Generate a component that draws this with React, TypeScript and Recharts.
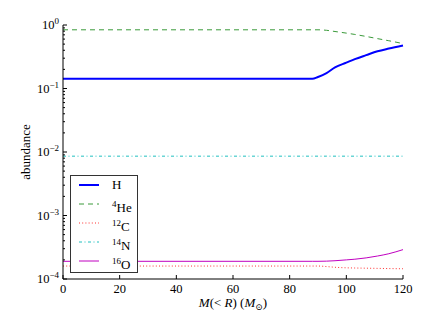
import { LineChart, Line, XAxis, YAxis } from "recharts";

// enclosed mass M(<R) in solar masses
const mass = [0, 88, 90, 93, 96, 100, 103, 107, 111, 115, 120];
const hydrogen = [0.142, 0.142, 0.152, 0.175, 0.215, 0.255, 0.29, 0.335, 0.385, 0.425, 0.475];
const helium4 = [0.84, 0.84, 0.84, 0.825, 0.79, 0.745, 0.71, 0.66, 0.61, 0.565, 0.51];
const carbon12 = [1.6e-4, 1.6e-4, 1.6e-4, 1.57e-4, 1.53e-4, 1.5e-4, 1.49e-4, 1.48e-4, 1.47e-4, 1.46e-4, 1.45e-4];
const nitrogen14 = [8.6e-3, 8.6e-3, 8.6e-3, 8.6e-3, 8.6e-3, 8.6e-3, 8.6e-3, 8.6e-3, 8.6e-3, 8.6e-3, 8.6e-3];
const oxygen16 = [1.9e-4, 1.9e-4, 1.9e-4, 1.91e-4, 1.94e-4, 2.0e-4, 2.05e-4, 2.15e-4, 2.3e-4, 2.5e-4, 2.9e-4];

const xTicks = [0, 20, 40, 60, 80, 100, 120];
const decades = [1e-4, 1e-3, 1e-2, 1e-1, 1];
const yTicks: number[] = [];
decades.forEach((d, i) => {
  yTicks.push(d);
  if (i < decades.length - 1) for (let m = 2; m <= 9; m++) yTicks.push(d * m);
});

const series = [
  { key: "H", iso: "", el: "H", color: "#0000ff", width: 2, dash: undefined },
  { key: "He4", iso: "4", el: "He", color: "#3a9a3a", width: 1, dash: "5 4" },
  { key: "C12", iso: "12", el: "C", color: "#ff3030", width: 1, dash: "1 2.2" },
  { key: "N14", iso: "14", el: "N", color: "#20c0c0", width: 1, dash: "3 2.5 1 2.5" },
  { key: "O16", iso: "16", el: "O", color: "#c000c0", width: 1, dash: undefined },
];

const rows = mass.map((m, i) => ({
  m,
  H: hydrogen[i],
  He4: helium4[i],
  C12: carbon12[i],
  N14: nitrogen14[i],
  O16: oxygen16[i],
}));

const FONT = "Liberation Serif, DejaVu Serif, serif";
const txt = { fontFamily: FONT };

function YTick(props: any) {
  const { x, y, payload, side } = props;
  const v = payload.value as number;
  const lg = Math.log10(v);
  const exp = Math.round(lg);
  const major = Math.abs(lg - exp) < 1e-6;
  const dir = side === "left" ? 1 : -1;
  const len = major ? 4 : 2;
  return (
    <g>
      <line x1={x} x2={x + dir * len} y1={y} y2={y} stroke="#000" />
      {side === "left" && major && (
        <text x={x - 4} y={y} dy="0.33em" textAnchor="end" fontSize={12.5} style={txt} fill="#000">
          10
          <tspan dy={-5} fontSize={9}>
            {exp < 0 ? "\u2212" + Math.abs(exp) : exp}
          </tspan>
        </text>
      )}
    </g>
  );
}

function XTick(props: any) {
  const { x, y, payload, side } = props;
  const dir = side === "bottom" ? -1 : 1;
  return (
    <g>
      <line x1={x} x2={x} y1={y} y2={y + dir * 4} stroke="#000" />
      {side === "bottom" && (
        <text x={x} y={y + 14} textAnchor="middle" fontSize={12.5} style={txt} fill="#000">
          {payload.value}
        </text>
      )}
    </g>
  );
}

function XLabel(props: any) {
  const { x, y, width } = props.viewBox;
  return (
    <text x={x + width / 2} y={y + 28} textAnchor="middle" fontSize={13} style={txt} fill="#000">
      <tspan fontStyle="italic">M</tspan>(&lt; <tspan fontStyle="italic">R</tspan>) (
      <tspan fontStyle="italic">M</tspan>
      <tspan dy={3} fontSize={9}>
        ⊙
      </tspan>
      <tspan dy={-3}>)</tspan>
    </text>
  );
}

function YLabel(props: any) {
  const { y, height } = props.viewBox;
  const cy = y + height / 2;
  return (
    <text
      x={22}
      y={cy}
      transform={`rotate(-90 22 ${cy})`}
      textAnchor="middle"
      fontSize={13}
      style={txt}
      fill="#000"
    >
      abundance
    </text>
  );
}

export default function App() {
  return (
    <div style={{ position: "relative", width: 416, height: 310, background: "#fff", fontFamily: FONT }}>
      <LineChart width={416} height={310} data={rows} margin={{ top: 17, right: 21, bottom: 8, left: 0 }}>
        <XAxis
          dataKey="m"
          type="number"
          domain={[0, 120]}
          ticks={xTicks}
          interval={0}
          height={31}
          tickSize={0}
          tickMargin={0}
          tickLine={false}
          axisLine={{ stroke: "#000" }}
          tick={<XTick side="bottom" />}
          label={<XLabel />}
        />
        <XAxis
          xAxisId="top"
          orientation="top"
          dataKey="m"
          type="number"
          domain={[0, 120]}
          ticks={xTicks}
          interval={0}
          height={0}
          tickSize={0}
          tickMargin={0}
          tickLine={false}
          axisLine={{ stroke: "#000" }}
          tick={<XTick side="top" />}
        />
        <YAxis
          scale="log"
          domain={[1e-4, 1]}
          allowDataOverflow
          ticks={yTicks}
          interval={0}
          width={55}
          tickSize={0}
          tickMargin={0}
          tickLine={false}
          axisLine={{ stroke: "#000" }}
          tick={<YTick side="left" />}
          label={<YLabel />}
        />
        <YAxis
          yAxisId="right"
          orientation="right"
          scale="log"
          domain={[1e-4, 1]}
          allowDataOverflow
          ticks={yTicks}
          interval={0}
          width={0}
          tickSize={0}
          tickMargin={0}
          tickLine={false}
          axisLine={{ stroke: "#000" }}
          tick={<YTick side="right" />}
        />
        {series.map((s) => (
          <Line
            key={s.key}
            dataKey={s.key}
            type="monotone"
            stroke={s.color}
            strokeWidth={s.width}
            strokeDasharray={s.dash}
            dot={false}
            activeDot={false}
            isAnimationActive={false}
          />
        ))}
      </LineChart>
      <div
        style={{
          position: "absolute",
          left: 62,
          top: 167,
          width: 66,
          height: 96,
          border: "1px solid #333",
          background: "#fff",
          fontSize: 13,
        }}
      >
        {series.map((s, i) => (
          <div key={s.key} style={{ position: "absolute", left: 0, top: i * 19, height: 18, width: 66 }}>
            <svg width={30} height={18} style={{ position: "absolute", left: 0, top: 0 }}>
              <line
                x1={8}
                x2={28}
                y1={9}
                y2={9}
                stroke={s.color}
                strokeWidth={s.width}
                strokeDasharray={s.dash}
              />
            </svg>
            <span style={{ position: "absolute", left: 41, top: 0, lineHeight: "18px", whiteSpace: "nowrap" }}>
              {s.iso && <sup style={{ fontSize: 9, verticalAlign: 5 }}>{s.iso}</sup>}
              {s.el}
            </span>
          </div>
        ))}
      </div>
    </div>
  );
}
